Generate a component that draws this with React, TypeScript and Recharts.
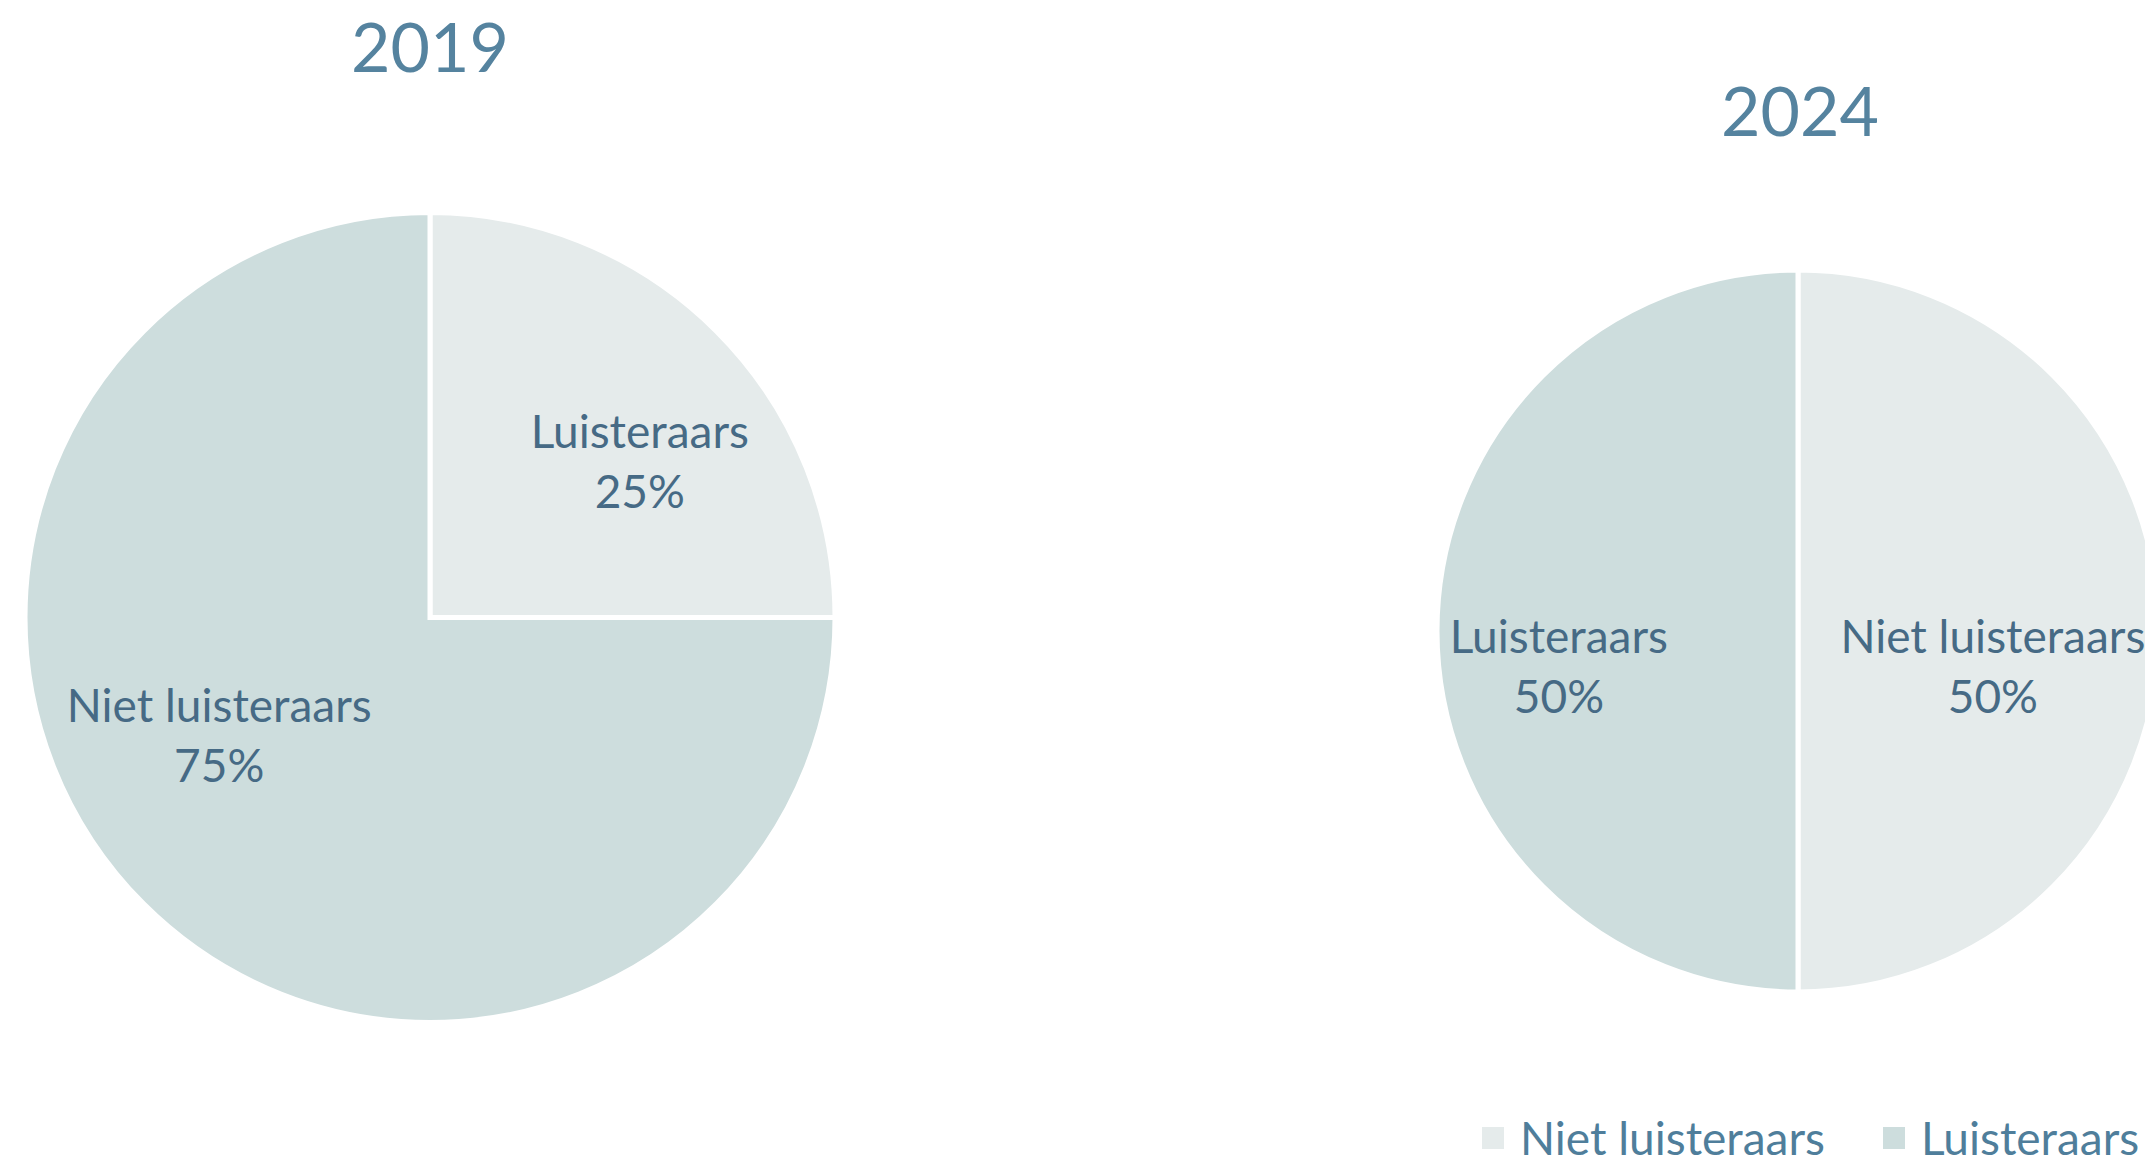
import React from 'react';
import { PieChart, Pie, Cell, Legend } from 'recharts';

// ---- data ----
const titles = ['2019', '2024'];
const categories2019 = ['Luisteraars', 'Niet luisteraars'];
const values2019 = [25, 75];
const categories2024 = ['Niet luisteraars', 'Luisteraars'];
const values2024 = [50, 50];
const legendLabels = ['Niet luisteraars', 'Luisteraars'];

// ---- styles ----
const FONT = 'Lato, "Open Sans", sans-serif';
const SLICE_COLORS = ['#E5EBEB', '#CDDDDD'];
const TITLE_COLOR = '#55839F';
const LABEL_COLOR = '#466A85';
const LEGEND_COLOR = '#4F7E9B';
const LABEL_SIZE = 46;
const TITLE_SIZE = 68;

// label placement per pie: angle delta (deg) from slice mid-angle, radius fraction
const LABEL_PLACE = [
  [{ da: -8.2, rf: 0.647 }, { da: -16, rf: 0.595 }],
  [{ da: -9.9, rf: 0.548 }, { da: 8.1, rf: 0.669 }],
];

const data2019 = categories2019.map((name, i) => ({ name, value: values2019[i] }));
const data2024 = categories2024.map((name, i) => ({ name, value: values2024[i] }));

const RAD = Math.PI / 180;

const makeLabel = (pieIdx: number) => (props: any) => {
  const { cx, cy, midAngle, outerRadius, name, percent, index } = props;
  const p = LABEL_PLACE[pieIdx][index];
  const a = (midAngle + p.da) * RAD;
  const r = outerRadius * p.rf;
  const x = cx + r * Math.cos(-a);
  const y = cy + r * Math.sin(-a);
  return (
    <text
      x={x}
      y={y}
      textAnchor="middle"
      fill={LABEL_COLOR}
      fontFamily={FONT}
      fontSize={LABEL_SIZE}
    >
      <tspan x={x} y={y - 30} dominantBaseline="central">{name}</tspan>
      <tspan x={x} y={y + 30} dominantBaseline="central">{`${Math.round(percent * 100)}%`}</tspan>
    </text>
  );
};

const LegendContent = () => (
  <div style={{ display: 'flex', alignItems: 'center', fontFamily: FONT, fontSize: LABEL_SIZE, color: LEGEND_COLOR, whiteSpace: 'nowrap' }}>
    {legendLabels.map((l, i) => (
      <div key={l} style={{ display: 'flex', alignItems: 'center', marginRight: i === 0 ? 58 : 0 }}>
        <div style={{ width: 22, height: 22, background: SLICE_COLORS[i], marginRight: 16 }} />
        <span style={{ lineHeight: 1 }}>{l}</span>
      </div>
    ))}
  </div>
);

export default function App() {
  return (
    <div style={{ position: 'absolute', left: 0, top: 0, width: 2145, height: 1158, overflow: 'hidden', background: '#fff' }}>
      <div style={{ position: 'absolute', left: 430, top: 46, transform: 'translate(-50%, -50%)', fontFamily: FONT, fontSize: TITLE_SIZE, color: TITLE_COLOR, lineHeight: 1 }}>{titles[0]}</div>
      <div style={{ position: 'absolute', left: 1800, top: 110, transform: 'translate(-50%, -50%)', fontFamily: FONT, fontSize: TITLE_SIZE, color: TITLE_COLOR, lineHeight: 1 }}>{titles[1]}</div>
      <PieChart width={2145} height={1158} margin={{ top: 0, right: 0, bottom: 0, left: 0 }}>
        <Pie
          data={data2019}
          dataKey="value"
          nameKey="name"
          cx={430}
          cy={617.5}
          outerRadius={405}
          startAngle={90}
          endAngle={-270}
          stroke="#ffffff"
          strokeWidth={5}
          label={makeLabel(0)}
          labelLine={false}
          isAnimationActive={false}
        >
          {data2019.map((d, i) => <Cell key={d.name} fill={SLICE_COLORS[i]} />)}
        </Pie>
        <Pie
          data={data2024}
          dataKey="value"
          nameKey="name"
          cx={1798}
          cy={631}
          outerRadius={361}
          startAngle={90}
          endAngle={-270}
          stroke="#ffffff"
          strokeWidth={5}
          label={makeLabel(1)}
          labelLine={false}
          isAnimationActive={false}
        >
          {data2024.map((d, i) => <Cell key={d.name} fill={SLICE_COLORS[i]} />)}
        </Pie>
        <Legend content={<LegendContent />} wrapperStyle={{ position: 'absolute', left: 1482, top: 1115, width: 'auto', bottom: 'auto' }} />
      </PieChart>
    </div>
  );
}
